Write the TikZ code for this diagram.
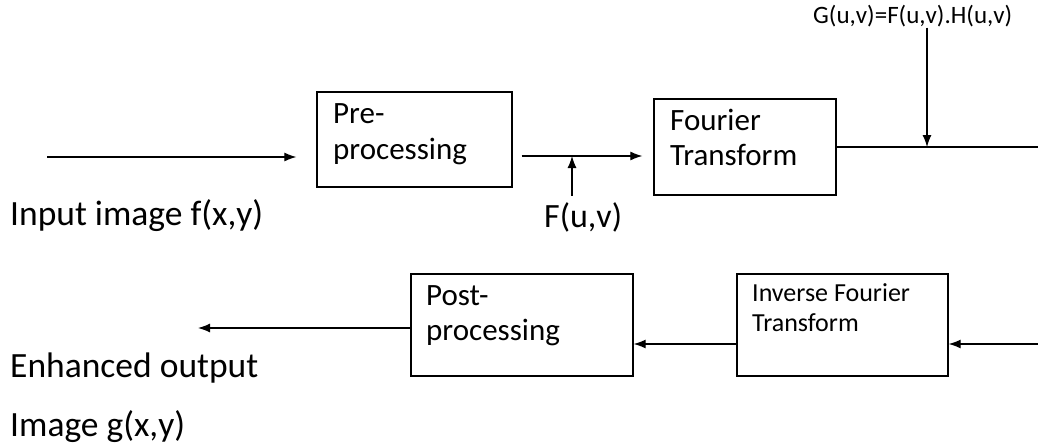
\documentclass[tikz,border=0pt]{standalone}
\usepackage{fontspec}
\setmainfont{Carlito}
\usetikzlibrary{positioning, arrows.meta, calc}

\tikzset{
	blk/.style={draw, line width=1.3pt, inner sep=0pt},
	txt/.style={inner sep=0pt, anchor=base west, align=left},
	arr/.style={line width=1.2pt, -{Latex[length=12pt, width=9pt]}}
}

\begin{document}
\begin{tikzpicture}[x=1pt, y=-1pt]
			\useasboundingbox (0,0) rectangle (1038,444);
			\node[blk, minimum width=195pt, minimum height=95pt] (pre) at (414.5,139.5) {};
			\node[blk, minimum width=182pt, minimum height=96pt] (ft) at (745,147) {};
			\node[blk, minimum width=222pt, minimum height=102pt] (post) at (522,325) {};
			\node[blk, minimum width=211pt, minimum height=102pt] (ift) at (842.5,325) {};
			\node[txt, font=\fontsize{31}{36}\selectfont] (pretxt) at (333,159) {Pre-\\processing};
			\node[txt, font=\fontsize{31}{35}\selectfont] (fttxt) at (670,165) {Fourier\\Transform};
			\node[txt, font=\fontsize{31}{35}\selectfont] (posttxt) at (426,340) {Post-\\processing};
			\node[txt, font=\fontsize{26}{30}\selectfont] (ifttxt) at (752,331) {Inverse Fourier\\Transform};
			\node[txt, font=\fontsize{35.5}{40}\selectfont] (inlbl) at (10,225) {Input image f(x,y)};
			\node[txt, font=\fontsize{34}{40}\selectfont] (fuv) at (544,227) {F(u,v)};
			\node[txt, font=\fontsize{25}{30}\selectfont] (glbl) at (813,24) {G(u,v)=F(u,v).H(u,v)};
			\node[txt, font=\fontsize{35.5}{59}\selectfont] (outlbl) at (10,436) {Enhanced output\\Image g(x,y)};
			\coordinate (in) at (47,157);
			\coordinate (fu) at (572,156);
			\coordinate (fout) at (1038,147);
			\coordinate (gin) at (927,147);
			\coordinate (iin) at (1038,344);
			\coordinate (out) at (198,328);
			\draw[arr, shorten >=20pt] (in) -- (pre.west |- in);
			\draw[arr, shorten <=9pt, shorten >=11pt] (pre.east |- fu) -- (ft.west |- fu);
			\draw[arr, shorten <=6pt] (fuv.north -| fu) -- (fu);
			\draw[line width=1.2pt] (ft.east) -- (fout);
			\draw[arr] (glbl.south -| gin) -- (gin);
			\draw[arr] (iin) -- (ift.east |- iin);
			\draw[arr] (ift.west |- iin) -- (post.east |- iin);
			\draw[arr] (post.west |- out) -- (out);
		\end{tikzpicture}
\end{document}
